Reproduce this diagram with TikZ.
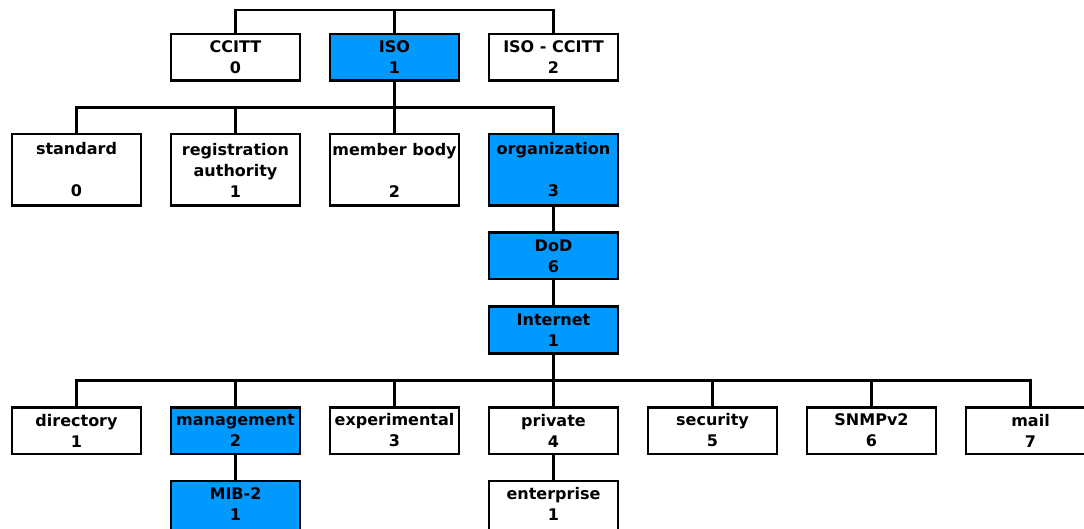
\documentclass[tikz,border=0pt]{standalone}
\usepackage{fontspec}
\setmainfont{DejaVu Sans}
\usetikzlibrary{positioning,calc}
\definecolor{oidBlue}{HTML}{0099FF}

\begin{document}
\begin{tikzpicture}[
     x=1pt, y=-1pt,
     node distance=30pt,
     box/.style={draw, line width=2.5pt, outer sep=0pt, minimum width=129pt, minimum height=46.5pt,
                 inner sep=0pt, align=center, fill=white,
                 font=\fontsize{16}{21}\selectfont\bfseries},
     tall/.style={box, minimum height=71.5pt},
     leaf/.style={box, minimum height=58pt},
     sel/.style={fill=oidBlue},
     link/.style={line width=2.5pt}]
  \useasboundingbox (0,0) rectangle (1084,529);
  \clip (0,0) rectangle (1084,529);
  % top level
  \node[box] (ccitt) at (235.5,57.5) {CCITT\\0};
  \node[box, sel, right=of ccitt] (iso) {ISO\\1};
  \node[box, right=of iso] (isoccitt) {ISO - CCITT\\2};
  % under ISO
  \node[tall] (std) at (76.5,170) {standard\\\mbox{}\\0};
  \node[tall, right=of std] (reg) {registration\\authority\\1};
  \node[tall, right=of reg] (mem) {member body\\\mbox{}\\2};
  \node[tall, sel, right=of mem] (org) {organization\\\mbox{}\\3};
  \node[box, sel, below=27pt of org] (dod) {DoD\\6};
  \node[box, sel, below=27.5pt of dod] (inet) {Internet\\1};
  % under Internet
  \node[box] (dir) at (76.5,430.5) {directory\\1};
  \node[box, sel, right=of dir] (mgmt) {management\\2};
  \node[box, right=of mgmt] (exp) {experimental\\3};
  \node[box, right=of exp] (priv) {private\\4};
  \node[box, right=of priv] (sec) {security\\5};
  \node[box, right=of sec] (snmp) {SNMPv2\\6};
  \node[box, right=of snmp] (mail) {mail\\7};
  \node[leaf, sel, below=27pt of mgmt] (mib) {MIB-2\\1\\[-9.5pt]};
  \node[leaf, below=27pt of priv] (ent) {enterprise\\1\\[-9.5pt]};
  % connectors
  \coordinate (root) at ([yshift=24pt]iso.north);
  \coordinate (b2) at ($(iso.south)!.5!(mem.north)$);
  \coordinate (b3) at ($(inet.south)!.5!(priv.north)$);
  \draw[link] (ccitt.north) |- (root) -| (isoccitt.north);
  \draw[link] (iso.north) -- (root);
  \draw[link] (iso.south) -- (b2);
  \foreach \n in {std,reg,mem,org} \draw[link] (b2) -| (\n.north);
  \draw[link] (org) -- (dod);
  \draw[link] (dod) -- (inet);
  \draw[link] (inet.south) -- (b3);
  \foreach \n in {dir,mgmt,exp,priv,sec,snmp,mail} \draw[link] (b3) -| (\n.north);
  \draw[link] (mgmt) -- (mib);
  \draw[link] (priv) -- (ent);
\end{tikzpicture}
\end{document}
